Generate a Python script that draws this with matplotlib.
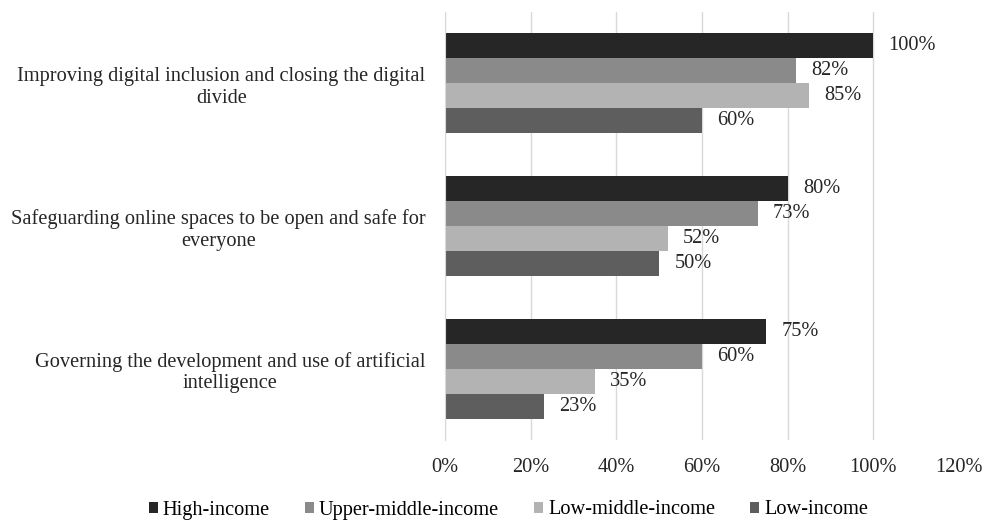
import numpy as np
import matplotlib.pyplot as plt
from matplotlib.patches import Patch

categories = [
    "Improving digital inclusion and closing the digital\ndivide",
    "Safeguarding online spaces to be open and safe for\neveryone",
    "Governing the development and use of artificial\nintelligence",
]
series = ["High-income", "Upper-middle-income", "Low-middle-income", "Low-income"]
high_income = [100, 80, 75]
upper_middle_income = [82, 73, 60]
low_middle_income = [85, 52, 35]
low_income = [60, 50, 23]
x_ticks = [0, 20, 40, 60, 80, 100, 120]

colors = ["#262626", "#8a8a8a", "#b3b3b3", "#5e5e5e"]
fs = 14.7

plt.rcParams['font.family'] = ['Liberation Serif', 'DejaVu Serif']

fig = plt.figure(figsize=(9.85, 5.21), dpi=100)
ax = fig.add_axes([445 / 985, 1 - 440 / 521, (959 - 445) / 985, 428 / 521])

values = [high_income, upper_middle_income, low_middle_income, low_income]
y = np.arange(len(categories))
bar_h = 0.175
for i, (name, vals) in enumerate(zip(series, values)):
    pos = y - 1.5 * bar_h + i * bar_h
    bars = ax.barh(pos, vals, height=bar_h, color=colors[i], label=name, zorder=2)
    for b, v in zip(bars, vals):
        ax.annotate(f"{v}%", (v, b.get_y() + b.get_height() / 2),
                    xytext=(11, 0), textcoords='offset points',
                    ha='left', va='center', fontsize=fs, color='#262626')

ax.set_xlim(0, 120)
ax.set_ylim(-0.5, len(categories) - 0.5)
ax.invert_yaxis()
ax.set_xticks(x_ticks, [f"{t}%" for t in x_ticks])
ax.set_yticks(y, categories)
for lbl in ax.get_yticklabels():
    lbl.set_multialignment('center')
ax.tick_params(axis='both', length=0, labelsize=fs, colors='#262626')
ax.tick_params(axis='x', pad=13)
ax.tick_params(axis='y', pad=14)

ax.grid(axis='x', color='#d9d9d9', linewidth=1, zorder=0)
ax.get_xgridlines()[-1].set_visible(False)
for s in ['top', 'right', 'bottom']:
    ax.spines[s].set_visible(False)
ax.spines['left'].set_color('#d9d9d9')
ax.spines['left'].set_zorder(3)

handles = [Patch(facecolor=c, label=n) for c, n in zip(colors, series)]
fig.legend(handles=handles, loc='center', bbox_to_anchor=(0.516, 1 - 510 / 521),
           ncol=4, frameon=False, fontsize=fs, handlelength=0.45, handleheight=0.45,
           handletextpad=0.25, columnspacing=1.7, borderpad=0)

fig.savefig("out.png", dpi=100)
